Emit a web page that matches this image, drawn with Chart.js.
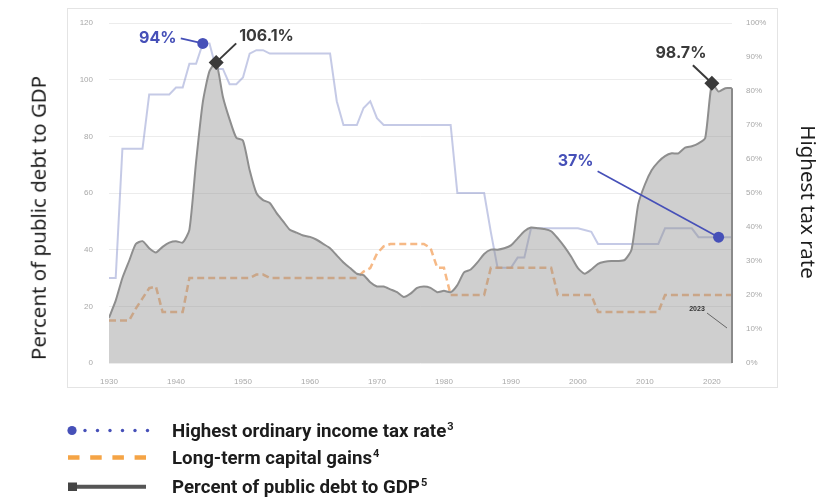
<!DOCTYPE html>
<html>
<head>
<meta charset="utf-8">
<script src="https://cdn.jsdelivr.net/npm/chart.js@4.4.1/dist/chart.umd.min.js"></script>
<style>
  html, body { margin:0; padding:0; background:#fff; width:835px; height:497px; overflow:hidden; }
  body { position:relative; }
  #chart { position:absolute; left:0; top:0; }
  .axis-title { position:absolute; font-family:"Noto Sans", "Liberation Sans", sans-serif; font-size:20.5px; color:#1e1e1e; white-space:nowrap; line-height:1; }
  #titleLeft { left:38px; top:218px; transform:translate(-50%,-50%) rotate(-90deg); }
  #titleRight { left:809px; top:202px; transform:translate(-50%,-50%) rotate(90deg); }
  #legendMarks { position:absolute; left:0; top:0; }
  .leg { position:absolute; left:172px; font-family:Roboto, Inter, "Noto Sans", sans-serif; font-weight:700; font-size:18.7px; line-height:24px; color:#1c1c1c; white-space:nowrap; }
  .leg sup { font-size:11px; vertical-align:7px; line-height:0; margin-left:1px; }
</style>
</head>
<body>
<canvas id="chart" width="835" height="400"></canvas>
<div id="titleLeft" class="axis-title">Percent of public debt to GDP</div>
<div id="titleRight" class="axis-title">Highest tax rate</div>
<svg id="legendMarks" width="835" height="497" xmlns="http://www.w3.org/2000/svg">
  <circle cx="72" cy="430.5" r="4.6" fill="#4650b8"/>
  <circle cx="85" cy="430.5" r="1.7" fill="#4650b8"/>
  <circle cx="97.5" cy="430.5" r="1.7" fill="#4650b8"/>
  <circle cx="110" cy="430.5" r="1.7" fill="#4650b8"/>
  <circle cx="122.5" cy="430.5" r="1.7" fill="#4650b8"/>
  <circle cx="135" cy="430.5" r="1.7" fill="#4650b8"/>
  <circle cx="147.5" cy="430.5" r="1.7" fill="#4650b8"/>
  <line x1="68" y1="457.5" x2="146" y2="457.5" stroke="#f5a445" stroke-width="4.5" stroke-dasharray="11.5 10.7"/>
  <rect x="68" y="482.5" width="9" height="8.5" fill="#444"/>
  <line x1="77" y1="486.8" x2="146" y2="486.8" stroke="#555" stroke-width="4"/>
</svg>
<div class="leg" style="top:419px">Highest ordinary income tax rate<sup>3</sup></div>
<div class="leg" style="top:446px">Long-term capital gains<sup>4</sup></div>
<div class="leg" style="top:475px">Percent of public debt to GDP<sup>5</sup></div>

<script>
// ---- Data ----
const years = [
  1930,1931,1932,1933,1934,1935,1936,1937,1938,1939,
  1940,1941,1942,1943,1944,1945,1946,1947,1948,1949,
  1950,1951,1952,1953,1954,1955,1956,1957,1958,1959,
  1960,1961,1962,1963,1964,1965,1966,1967,1968,1969,
  1970,1971,1972,1973,1974,1975,1976,1977,1978,1979,
  1980,1981,1982,1983,1984,1985,1986,1987,1988,1989,
  1990,1991,1992,1993,1994,1995,1996,1997,1998,1999,
  2000,2001,2002,2003,2004,2005,2006,2007,2008,2009,
  2010,2011,2012,2013,2014,2015,2016,2017,2018,2019,
  2020,2021,2022,2023
];

// Percent of public debt to GDP (left axis)
const debtToGdp = [
  16,22,30,36,42,43,40.5,39,41,42.5,
  43,42.5,47,71,92,103,106.1,94,86,79.5,
  78.5,68,60,57.5,56.5,53,50,47,46,45,
  44.5,43.5,42,40.5,38,35.5,33.5,31.5,31,28.5,
  27,27,26,25,23.3,24.5,26.5,27,26.5,25,
  25.5,25,27.5,32,33,35.5,38.5,40,40,40.5,
  41.5,44,46.5,47.8,47.6,47.3,46.5,44,41,37.5,
  33.5,31.5,33,35,35.7,36,36,36.4,40,56,
  63,68,71,73,74,74,76,76.5,77.5,79.4,
  98.7,95.8,97,97
];

// Highest ordinary income tax rate, % (right axis)
const topIncomeTax = [
  25,25,63,63,63,63,79,79,79,79,
  81,81,88,88,94,94,86.5,86.5,82,82,
  84,91,92,92,91,91,91,91,91,91,
  91,91,91,91,77,70,70,70,75,77,
  72,70,70,70,70,70,70,70,70,70,
  70,70,50,50,50,50,50,38.5,28,28,
  28,31,31,39.6,39.6,39.6,39.6,39.6,39.6,39.6,
  39.6,39.1,38.6,35,35,35,35,35,35,35,
  35,35,35,39.6,39.6,39.6,39.6,39.6,37,37,
  37,37,37,37
];

// Long-term capital gains top rate, % (right axis)
const capitalGains = [
  12.5,12.5,12.5,12.5,16,19,22,22.5,15,15,
  15,15,25,25,25,25,25,25,25,25,
  25,25,26,26,25,25,25,25,25,25,
  25,25,25,25,25,25,25,25,26.9,27.9,
  32.2,34.3,35,35,35,35,35,35,33.8,28,
  28,20,20,20,20,20,20,28,28,28,
  28,28,28,28,28,28,28,20,20,20,
  20,20,20,15,15,15,15,15,15,15,
  15,15,15,20,20,20,20,20,20,20,
  20,20,20,20
];

// Tick labels
const xTickYears = [1930,1940,1950,1960,1970,1980,1990,2000,2010,2020];
const leftTicks = [0,20,40,60,80,100,120];
const rightTicks = [0,10,20,30,40,50,60,70,80,90,100];

// Callouts
const callouts = [
  { axis:'y1', year:1944, value:94,    text:'94%' },
  { axis:'y',  year:1946, value:106.1, text:'106.1%' },
  { axis:'y',  year:2020, value:98.7,  text:'98.7%' },
  { axis:'y1', year:2021, value:37,    text:'37%' }
];
const lastYearTag = '2023';

// ---- Styles for callouts (positions relative to point) ----
const calloutStyles = [
  { marker:'dot',     color:'#4650b8', lbl:[-45,-5],   align:'center', lead:[-22,-5],  lw:1.6 },
  { marker:'diamond', color:'#3a3a3a', lbl:[23,-26],   align:'left',   lead:[20,-19],  lw:2 },
  { marker:'diamond', color:'#3a3a3a', lbl:[-31,-30],  align:'center', lead:[-19,-18], lw:2 },
  { marker:'dot',     color:'#4650b8', lbl:[-143,-76], align:'center', lead:[-121,-66],lw:1.6 }
];

const toPts = arr => years.map((y, i) => ({ x: y, y: arr[i] }));

const framePlugin = {
  id: 'frame',
  beforeDraw(chart) {
    const ctx = chart.ctx;
    ctx.save();
    ctx.fillStyle = '#ffffff';
    ctx.fillRect(0, 0, chart.width, chart.height);
    ctx.strokeStyle = '#e4e4e4';
    ctx.lineWidth = 1;
    ctx.strokeRect(67.5, 8.5, 710, 379);
    ctx.restore();
  }
};

const annotPlugin = {
  id: 'annot',
  afterDatasetsDraw(chart) {
    const ctx = chart.ctx;
    const xs = chart.scales.x;
    const area = chart.chartArea;
    ctx.save();
    // right edge of debt area
    const lastI = years.length - 1;
    const ex = xs.getPixelForValue(years[lastI]);
    ctx.strokeStyle = '#8a8a8a';
    ctx.lineWidth = 2;
    ctx.beginPath();
    ctx.moveTo(ex, chart.scales.y.getPixelForValue(debtToGdp[lastI]));
    ctx.lineTo(ex, chart.scales.y.getPixelForValue(0));
    ctx.stroke();

    // small year tag
    ctx.fillStyle = '#333';
    ctx.font = 'bold 7px "Liberation Sans", sans-serif';
    ctx.textAlign = 'center';
    ctx.textBaseline = 'middle';
    ctx.fillText(lastYearTag, ex - 35, area.bottom - 54);
    ctx.strokeStyle = '#666';
    ctx.lineWidth = 1;
    ctx.beginPath();
    ctx.moveTo(ex - 25, area.bottom - 50);
    ctx.lineTo(ex - 5, area.bottom - 35);
    ctx.stroke();

    callouts.forEach((c, i) => {
      const st = calloutStyles[i];
      const px = xs.getPixelForValue(c.year);
      const py = chart.scales[c.axis].getPixelForValue(c.value);
      ctx.strokeStyle = st.color;
      ctx.lineWidth = st.lw;
      ctx.beginPath();
      ctx.moveTo(px + st.lead[0], py + st.lead[1]);
      ctx.lineTo(px, py);
      ctx.stroke();
      ctx.fillStyle = st.color;
      if (st.marker === 'dot') {
        ctx.beginPath();
        ctx.arc(px, py, 5.5, 0, Math.PI * 2);
        ctx.fill();
      } else {
        const r = 7.5;
        ctx.beginPath();
        ctx.moveTo(px, py - r);
        ctx.lineTo(px + r, py);
        ctx.lineTo(px, py + r);
        ctx.lineTo(px - r, py);
        ctx.closePath();
        ctx.fill();
      }
      ctx.font = '700 16px Inter, "Noto Sans", sans-serif';
      ctx.textAlign = st.align;
      ctx.textBaseline = 'middle';
      ctx.fillText(c.text, px + st.lbl[0], py + st.lbl[1]);
    });
    ctx.restore();
  }
};

const tickFont = { family: '"Liberation Sans", sans-serif', size: 8 };

new Chart(document.getElementById('chart'), {
  type: 'line',
  data: {
    datasets: [
      {
        label: 'Percent of public debt to GDP',
        data: toPts(debtToGdp),
        yAxisID: 'y',
        borderColor: '#8e8e8e',
        borderWidth: 2,
        backgroundColor: 'rgba(140,140,140,0.42)',
        fill: 'origin',
        pointRadius: 0,
        tension: 0.2,
        order: 0
      },
      {
        label: 'Long-term capital gains',
        data: toPts(capitalGains),
        yAxisID: 'y1',
        borderColor: 'rgba(242,158,88,0.72)',
        borderWidth: 2.5,
        borderDash: [7, 4],
        fill: false,
        pointRadius: 0,
        tension: 0,
        order: 1
      },
      {
        label: 'Highest ordinary income tax rate',
        data: toPts(topIncomeTax),
        yAxisID: 'y1',
        borderColor: 'rgba(150,158,210,0.55)',
        borderWidth: 2,
        fill: false,
        pointRadius: 0,
        tension: 0,
        order: 2
      }
    ]
  },
  options: {
    responsive: false,
    devicePixelRatio: 1,
    animation: false,
    layout: { padding: { top: 23, left: 0, right: 0, bottom: 0 } },
    plugins: { legend: { display: false }, tooltip: { enabled: false } },
    scales: {
      x: {
        type: 'linear', min: 1930, max: 2023,
        grid: { display: false }, border: { display: false },
        afterBuildTicks: s => { s.ticks = xTickYears.map(v => ({ value: v })); },
        ticks: { font: tickFont, color: '#a8a8a8', padding: 6, maxRotation: 0, autoSkip: false, callback: v => String(v) },
        afterFit: s => { s.height = 37; }
      },
      y: {
        position: 'left', min: 0, max: 120,
        afterBuildTicks: s => { s.ticks = leftTicks.map(v => ({ value: v })); },
        grid: { color: '#ececec', drawTicks: false }, border: { display: false },
        ticks: { font: tickFont, color: '#a8a8a8', padding: 16 },
        afterFit: s => { s.width = 109; }
      },
      y1: {
        position: 'right', min: 0, max: 100,
        afterBuildTicks: s => { s.ticks = rightTicks.map(v => ({ value: v })); },
        grid: { display: false, drawTicks: false }, border: { display: false },
        ticks: { font: tickFont, color: '#a8a8a8', padding: 14, callback: v => v + '%' },
        afterFit: s => { s.width = 103; }
      }
    }
  },
  plugins: [framePlugin, annotPlugin]
});
</script>
</body>
</html>
